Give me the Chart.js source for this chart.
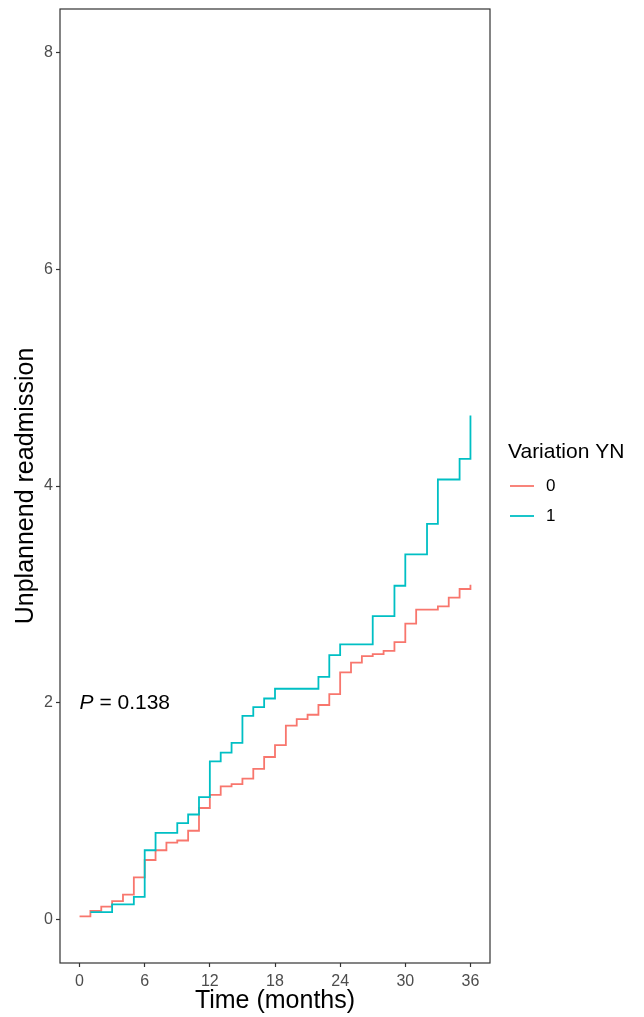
<!DOCTYPE html>
<html>
<head>
<meta charset="utf-8">
<script src="https://cdn.jsdelivr.net/npm/chart.js@4.4.1/dist/chart.umd.min.js"></script>
<style>
  html, body { margin: 0; padding: 0; background: #ffffff; }
  canvas { display: block; }
</style>
</head>
<body>
<canvas id="chart" width="644" height="1017"></canvas>
<script>
// Cumulative unplanned readmissions by month, grouped by Variation YN
const groupNames = ['0', '1'];
const monthsGroup0 = [0, 1, 2, 3, 4, 5, 6, 7, 8, 9, 10, 11, 12, 13, 14, 15, 16, 17, 18,
  19, 20, 21, 22, 23, 24, 25, 26, 27, 28, 29, 30, 31, 32, 33, 34, 35, 36];
const valuesGroup0 = [0.03, 0.08, 0.12, 0.17, 0.23, 0.39, 0.55, 0.64, 0.71, 0.73, 0.82, 1.03,
  1.15, 1.23, 1.25, 1.30, 1.39, 1.50, 1.61, 1.79, 1.85, 1.89, 1.98, 2.08, 2.28, 2.37, 2.43,
  2.45, 2.48, 2.56, 2.73, 2.86, 2.86, 2.89, 2.97, 3.05, 3.09];
const monthsGroup1 = [1, 3, 5, 6, 7, 9, 10, 11, 12, 13, 14, 15, 16, 17, 18, 22, 23, 24,
  27, 29, 30, 32, 33, 35, 36];
const valuesGroup1 = [0.07, 0.14, 0.21, 0.64, 0.80, 0.89, 0.97, 1.13, 1.46, 1.54, 1.63, 1.88,
  1.96, 2.04, 2.13, 2.24, 2.44, 2.54, 2.80, 3.08, 3.37, 3.65, 4.06, 4.25, 4.65];
const xTicks = [0, 6, 12, 18, 24, 30, 36];
const yTicks = [0, 2, 4, 6, 8];
const pValueText = '0.138';

const RED = '#F8766D';
const TEAL = '#00BFC4';
const FONT = "'Liberation Sans', Arial, sans-serif";

function toPoints(xs, ys) {
  return xs.map((x, i) => ({ x: x, y: ys[i] }));
}

// Frame, axis titles, p-value and legend drawn on the canvas
const decorations = {
  id: 'decorations',
  afterDraw(chart) {
    const ctx = chart.ctx;
    const a = chart.chartArea;
    const xs = chart.scales.x;
    const ys = chart.scales.y;
    ctx.save();

    // panel border
    ctx.strokeStyle = '#333333';
    ctx.lineWidth = 1.2;
    ctx.strokeRect(a.left, a.top, a.right - a.left, a.bottom - a.top);

    // x title
    ctx.fillStyle = '#000000';
    ctx.font = '25px ' + FONT;
    ctx.textAlign = 'center';
    ctx.textBaseline = 'middle';
    ctx.fillText('Time (months)', (a.left + a.right) / 2, 1001);

    // y title
    ctx.save();
    ctx.translate(26, (a.top + a.bottom) / 2);
    ctx.rotate(-Math.PI / 2);
    ctx.fillText('Unplannend readmission', 0, 0);
    ctx.restore();

    // p-value annotation at (0, 2)
    const px = xs.getPixelForValue(0);
    const py = ys.getPixelForValue(2);
    ctx.textAlign = 'left';
    ctx.font = 'italic 21px ' + FONT;
    ctx.fillText('P', px, py);
    const wP = ctx.measureText('P').width;
    ctx.font = '21px ' + FONT;
    ctx.fillText(' = ' + pValueText, px + wP, py);

    // legend
    ctx.font = '21px ' + FONT;
    ctx.fillText('Variation YN', 508, 452);
    const colors = [RED, TEAL];
    const rowsY = [486, 516];
    ctx.font = '17px ' + FONT;
    groupNames.forEach((name, i) => {
      ctx.strokeStyle = colors[i];
      ctx.lineWidth = 1.8;
      ctx.beginPath();
      ctx.moveTo(510, rowsY[i]);
      ctx.lineTo(534, rowsY[i]);
      ctx.stroke();
      ctx.fillStyle = '#000000';
      ctx.fillText(name, 546, rowsY[i]);
    });
    ctx.restore();
  }
};

new Chart(document.getElementById('chart'), {
  type: 'line',
  data: {
    datasets: [
      {
        label: groupNames[0],
        data: toPoints(monthsGroup0, valuesGroup0),
        borderColor: RED,
        borderWidth: 1.8,
        stepped: 'before',
        pointRadius: 0,
        fill: false,
        order: 1
      },
      {
        label: groupNames[1],
        data: toPoints(monthsGroup1, valuesGroup1),
        borderColor: TEAL,
        borderWidth: 1.8,
        stepped: 'before',
        pointRadius: 0,
        fill: false,
        order: 0
      }
    ]
  },
  options: {
    responsive: false,
    animation: false,
    devicePixelRatio: 1,
    layout: { padding: { left: 0, right: 154, top: 9, bottom: 0 } },
    plugins: {
      legend: { display: false },
      tooltip: { enabled: false }
    },
    scales: {
      x: {
        type: 'linear',
        min: -1.8,
        max: 37.8,
        afterBuildTicks(scale) { scale.ticks = xTicks.map(v => ({ value: v })); },
        afterFit(scale) {
          scale.height = 54;
          scale.paddingLeft = 0;
          scale.paddingRight = 0;
        },
        ticks: {
          color: '#4D4D4D',
          font: { family: FONT, size: 16 },
          padding: 5,
          maxRotation: 0,
          autoSkip: false
        },
        grid: {
          display: true,
          drawOnChartArea: false,
          drawTicks: true,
          tickLength: 4,
          tickWidth: 1.2,
          tickColor: '#333333'
        },
        border: { display: false }
      },
      y: {
        type: 'linear',
        min: -0.4,
        max: 8.4,
        afterBuildTicks(scale) { scale.ticks = yTicks.map(v => ({ value: v })); },
        afterFit(scale) {
          scale.width = 60;
          scale.paddingTop = 0;
          scale.paddingBottom = 0;
        },
        ticks: {
          color: '#4D4D4D',
          font: { family: FONT, size: 16 },
          padding: 3,
          autoSkip: false
        },
        grid: {
          display: true,
          drawOnChartArea: false,
          drawTicks: true,
          tickLength: 4,
          tickWidth: 1.2,
          tickColor: '#333333'
        },
        border: { display: false }
      }
    }
  },
  plugins: [decorations]
});
</script>
</body>
</html>
